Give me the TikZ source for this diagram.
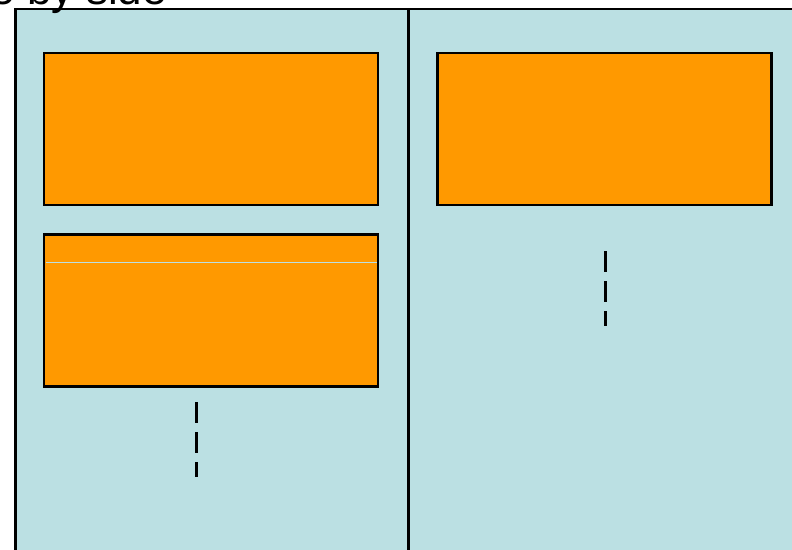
\documentclass[tikz,border=0pt]{standalone}
\usepackage{fontspec}
\setmainfont{Liberation Sans}
\definecolor{panelblue}{HTML}{BBE0E3}
\definecolor{boxorange}{HTML}{FF9900}
\begin{document}
\begin{tikzpicture}[x=1pt,y=-1pt,
  box/.style={draw=black,fill=boxorange,line width=2.8pt,minimum width=334pt,minimum height=152pt,inner sep=0pt,outer sep=0pt},
  dashline/.style={draw=black,line width=2.8pt,dash pattern=on 21pt off 9pt},
  title/.style={font=\fontsize{44}{44}\selectfont,anchor=base west,inner sep=0pt}]
\useasboundingbox (0,0) rectangle (792,549);
\clip (0,0) rectangle (792,549);
% panel
\path[fill=panelblue,draw=black,line width=2.8pt] (15.5,9) rectangle (820,570);
\draw[line width=2.8pt] (408.5,9) coordinate (dtop) -- (408.5,570) coordinate (dbot);
% title
\node[title] (title) at (-73,4) {Side by side};
% boxes
\node[box] (b1) at (211,129) {};
\node[box] (b2) at (211,310.5) {};
\node[box] (b3) at (604.5,129) {};
\draw[panelblue,line width=1pt] ([xshift=1.5pt]b2.west |- 0,262.5) -- ([xshift=-1.5pt]b2.east |- 0,262.5);
% dashed continuation marks
\coordinate (l1) at (196.5,402);
\coordinate (l2) at (196.5,477);
\coordinate (r1) at (605.5,251);
\coordinate (r2) at (605.5,326);
\draw[dashline] (l1) -- (l2);
\draw[dashline] (r1) -- (r2);
\end{tikzpicture}
\end{document}
